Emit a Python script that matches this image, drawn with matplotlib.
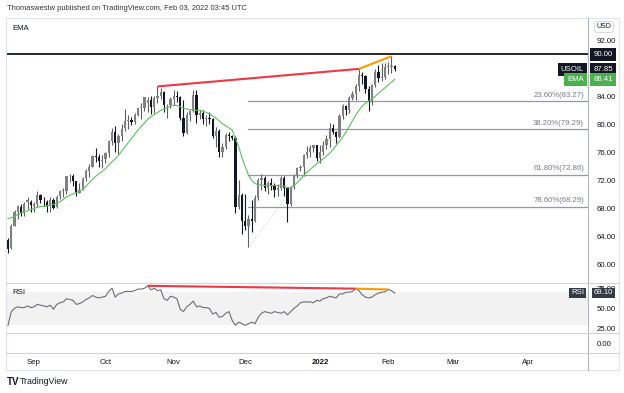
import matplotlib
matplotlib.use('Agg')
import matplotlib.pyplot as plt
import matplotlib.transforms as mtrans
from matplotlib.lines import Line2D
import numpy as np
import pandas as pd

plt.rcParams['font.family'] = ['Liberation Sans', 'DejaVu Sans']

# ---------------- data ----------------
start_date = '2021-08-20'
end_date = '2022-02-03'

opens = [63.5, 62.4, 65.6, 67.5, 68.3, 67.4, 68.9, 69.0, 68.4, 68.7,
         69.9, 69.0, 69.0, 68.4, 69.3, 68.2, 69.8, 70.5, 70.5, 72.6,
         72.6, 71.9, 70.3, 70.6, 72.3, 73.3, 74.0, 75.5, 75.3, 74.8,
         75.1, 75.9, 77.6, 78.9, 77.4, 78.3, 79.5, 80.5, 80.6, 80.4,
         81.3, 82.4, 82.4, 83.0, 83.4, 82.5, 83.8, 84.0, 84.6, 82.7,
         82.8, 83.6, 84.0, 83.9, 80.9, 78.8, 81.3, 81.9, 84.2, 81.3,
         81.6, 80.8, 80.9, 80.8, 78.4, 79.0, 76.1, 76.8, 78.5, 78.4,
         78.1, 68.2, 70.0, 66.2, 65.6, 66.5, 66.3, 69.5, 72.1, 72.4,
         70.9, 71.7, 71.3, 70.7, 70.9, 72.4, 70.9, 68.6, 71.1, 72.8,
         73.8, 73.9, 75.6, 76.0, 76.6, 77.0, 75.2, 76.1, 77.0, 77.9,
         79.5, 78.9, 78.2, 81.2, 82.6, 82.1, 83.8, 84.3, 85.4, 87.0,
         86.9, 85.1, 83.3, 85.6, 87.4, 86.6, 86.8, 88.2, 88.2, 88.3]
highs = [63.9, 65.8, 67.8, 68.5, 68.6, 68.9, 69.6, 69.3, 69.0, 70.5,
         70.1, 69.6, 69.3, 69.6, 69.5, 69.9, 70.7, 71.0, 72.7, 73.0,
         72.9, 71.9, 71.6, 72.5, 73.6, 74.3, 75.7, 76.7, 75.8, 75.6,
         76.0, 77.8, 79.5, 79.8, 78.7, 80.0, 82.2, 81.3, 81.0, 81.6,
         82.4, 83.0, 83.9, 83.9, 84.0, 84.0, 85.4, 85.2, 84.7, 82.9,
         83.9, 84.9, 84.8, 84.0, 83.4, 81.8, 82.1, 84.9, 84.9, 82.1,
         82.0, 81.3, 81.8, 80.9, 79.6, 79.3, 77.4, 78.8, 78.9, 78.5,
         78.3, 72.1, 70.2, 70.1, 67.1, 69.3, 70.0, 72.4, 72.9, 72.7,
         72.0, 72.4, 71.7, 71.5, 72.7, 72.6, 70.9, 71.3, 72.9, 73.9,
         74.2, 75.8, 76.9, 77.0, 77.1, 77.0, 77.0, 77.6, 78.5, 80.2,
         80.0, 79.0, 81.5, 82.9, 82.8, 84.0, 84.8, 85.7, 87.9, 87.5,
         87.0, 85.5, 85.8, 87.9, 88.5, 88.8, 88.7, 88.9, 89.7, 88.4]
lows = [61.7, 62.3, 65.5, 66.6, 66.9, 67.0, 68.0, 67.6, 67.6, 68.3,
        68.8, 68.4, 67.6, 67.6, 67.9, 68.1, 69.4, 69.7, 70.1, 71.8,
        71.3, 69.8, 70.2, 70.6, 71.9, 72.5, 73.9, 74.6, 73.9, 73.8,
        74.5, 75.3, 77.0, 76.0, 75.8, 77.6, 79.1, 79.4, 79.9, 80.0,
        81.2, 80.8, 81.9, 81.8, 81.5, 81.6, 83.0, 83.6, 81.8, 80.9,
        82.3, 82.8, 83.2, 80.6, 78.3, 78.6, 80.5, 81.8, 80.2, 80.8,
        80.0, 79.8, 80.0, 78.1, 76.8, 75.4, 75.3, 76.5, 77.6, 77.8,
        67.4, 67.9, 64.4, 64.9, 62.5, 64.7, 66.1, 69.2, 70.7, 70.5,
        70.1, 70.7, 69.6, 69.8, 70.6, 69.8, 66.1, 68.4, 70.8, 72.3,
        73.4, 72.6, 75.2, 75.3, 76.0, 74.8, 74.5, 75.6, 76.5, 76.8,
        78.6, 77.4, 78.1, 80.8, 81.4, 81.6, 83.5, 83.5, 84.7, 85.7,
        84.4, 81.9, 82.7, 85.3, 86.1, 86.2, 86.4, 87.2, 87.3, 87.6]
closes = [62.3, 65.6, 67.5, 68.4, 67.4, 68.7, 69.2, 68.5, 68.6, 70.0,
          69.3, 68.9, 68.4, 69.3, 68.1, 69.7, 70.5, 70.5, 72.6, 72.6,
          72.0, 70.3, 70.6, 72.2, 73.3, 74.0, 75.5, 75.3, 74.8, 75.0,
          75.9, 77.6, 78.9, 77.4, 78.3, 79.4, 80.5, 80.6, 80.4, 81.3,
          82.3, 82.4, 83.9, 83.4, 82.5, 83.8, 84.0, 84.6, 82.7, 82.8,
          83.6, 84.0, 83.9, 80.9, 78.8, 81.3, 81.9, 84.2, 81.3, 81.6,
          80.8, 80.9, 80.8, 78.4, 79.0, 76.1, 76.8, 78.5, 78.4, 78.1,
          68.2, 70.0, 66.2, 65.6, 66.5, 66.3, 69.5, 72.1, 72.4, 70.9,
          71.7, 71.3, 70.7, 70.9, 72.4, 70.9, 68.6, 71.1, 72.8, 73.8,
          73.9, 75.6, 76.0, 76.6, 77.0, 75.2, 76.1, 77.0, 77.9, 79.5,
          78.9, 78.2, 81.2, 82.6, 82.1, 83.8, 84.3, 85.4, 87.0, 86.9,
          85.1, 83.3, 85.6, 87.4, 86.6, 86.8, 88.2, 88.2, 88.3, 87.85]
ema = [66.6, 66.7, 66.9, 67.2, 67.4, 67.6, 67.7, 67.9, 68.0, 68.2,
       68.3, 68.3, 68.4, 68.5, 68.6, 68.8, 69.0, 69.3, 69.7, 69.9,
       70.1, 70.3, 70.5, 70.8, 71.2, 71.7, 72.2, 72.6, 73.0, 73.3,
       73.7, 74.2, 74.7, 75.1, 75.6, 76.2, 76.8, 77.4, 78.0, 78.6,
       79.2, 79.7, 80.2, 80.7, 81.1, 81.4, 81.7, 82.0, 82.2, 82.4,
       82.6, 82.7, 82.7, 82.5, 82.3, 82.2, 82.1, 82.1, 82.0, 82.0,
       81.9, 81.7, 81.5, 81.2, 80.9, 80.5, 80.1, 79.8, 79.5, 79.2,
       78.0, 76.8, 75.3, 74.0, 72.8, 72.0, 71.6, 71.4, 71.4, 71.3,
       71.3, 71.3, 71.3, 71.3, 71.3, 71.2, 71.0, 71.0, 71.3, 71.7,
       72.2, 72.7, 73.2, 73.6, 74.0, 74.4, 74.7, 75.1, 75.5, 75.9,
       76.4, 77.0, 77.6, 78.2, 78.9, 79.7, 80.5, 81.3, 82.0, 82.6,
       83.0, 83.3, 83.6, 84.0, 84.4, 84.8, 85.2, 85.6, 86.0, 86.41]
rsi = [29, 46, 50, 52, 51, 51, 53, 51, 52, 55,
       54, 53, 52, 54, 49, 55, 57, 58, 62, 61,
       60, 55, 56, 58, 61, 63, 66, 64, 63, 64,
       65, 71, 75, 64, 68, 69, 71, 71, 71, 72,
       74, 74, 75, 78, 73, 75, 72, 73, 62, 60,
       65, 64, 62, 49, 46, 52, 55, 59, 52, 53,
       51, 51, 50, 43, 45, 39, 40, 44, 46, 35,
       29, 33, 31, 29, 31, 33, 31, 39, 44, 46,
       45, 44, 46, 45, 44, 46, 42, 46, 50, 53,
       57, 58, 58, 58, 57, 60, 59, 62, 63, 65,
       64, 63, 68, 68, 70, 70, 71, 74.5, 72, 67,
       64, 63, 64, 67, 69, 70, 70.5, 73.5, 72, 69.1]

price_ticks = [60, 64, 68, 72, 76, 80, 84, 92]   # 88.00 is hidden under the last-price tag
rsi_ticks = [25, 50, 75]
month_labels = ['Sep', 'Oct', 'Nov', 'Dec', '2022', 'Feb', 'Mar', 'Apr']
month_starts = ['2021-09-01', '2021-10-01', '2021-11-01', '2021-12-01',
                '2022-01-03', '2022-02-01', '2022-03-01', '2022-04-01']
fib_pcts = ['23.60%', '38.20%', '61.80%', '78.60%']
fib_prices = [83.27, 79.29, 72.86, 68.29]
fib_low_date, fib_low_price = '2021-12-02', 62.46
fib_high_date, fib_high_price = '2022-02-02', 89.70
hline_price = 90.00
div_price_dates = ['2021-10-25', '2022-01-19', '2022-02-02']
div_rsi_dates = ['2021-10-20', '2022-01-18', '2022-02-01']
last_price, last_ema, last_rsi = 87.85, 86.41, 69.10
header = 'Thomaswestw published on TradingView.com, Feb 03, 2022 03:45 UTC'

# ---------------- setup ----------------
days = pd.bdate_range(start_date, '2022-04-30')
bars = pd.bdate_range(start_date, end_date)
o, h, l, c = (np.array(v, dtype=float) for v in (opens, highs, lows, closes))
assert len(bars) == len(o) == len(h) == len(l) == len(c) == len(ema) == len(rsi)
xi = np.arange(len(bars))
def idx(d):
    return int(days.get_indexer([pd.Timestamp(d)])[0])

W, H = 624, 393
fig = plt.figure(figsize=(W / 100, H / 100), dpi=100)
fig.patch.set_facecolor('white')

TXT = '#131722'
GRID = '#e0e3eb'
PL, PR, XR = 7, 588, 619
XLIM = (-0.31, 178.5)
FS = 5.6

def add_ax(x0, y0, x1, y1):
    a = fig.add_axes([x0 / W, 1 - y1 / H, (x1 - x0) / W, (y1 - y0) / H])
    a.set_facecolor('none')
    for s in a.spines.values():
        s.set_visible(False)
    a.set_xlim(XLIM)
    a.set_xticks([])
    return a

def fig_line(xs, ys, color=GRID, lw=0.8):
    fig.add_artist(Line2D([x / W for x in xs], [1 - y / H for y in ys], color=color, lw=lw))

# frame
fig_line([6, XR], [17.5, 17.5])
fig_line([6, XR], [370, 370])
fig_line([6, 6], [17.5, 370])
fig_line([XR, XR], [17.5, 370])
fig_line([PR, PR], [17.5, 370], color='#b2b5be')
for yy in (282.5, 333, 353):
    fig_line([6, XR], [yy, yy], color='#d1d4dc')

def tag(a, y, text, fc, side='right', tc='white', pad=0.4):
    tr = mtrans.blended_transform_factory(a.transAxes, a.transData)
    if side == 'right':
        xx, ha = 1 + 5.5 / (PR - PL), 'left'
    else:
        xx, ha = 1 - 4 / (PR - PL), 'right'
    a.text(xx, y, text, transform=tr, ha=ha, va='center', fontsize=FS, color=tc,
           bbox=dict(boxstyle=f'square,pad={pad}', fc=fc, ec='none'), clip_on=False, zorder=20)

# ---------------- price pane ----------------
ax = add_ax(PL, 18, PR, 282.5)
ax.set_ylim(57.5, 95.14)
up = c >= o
body_col = np.where(up, '#808080', '#131722')
wick_col = np.where(up, '#5f5f5f', '#131722')
ax.vlines(xi, l, h, colors=wick_col, lw=0.8, zorder=3)
ax.bar(xi, np.maximum(np.abs(c - o), 0.1), bottom=np.minimum(o, c), width=0.7,
       color=body_col, lw=0, zorder=4)
ax.plot(xi, ema, color='#5fbf5f', lw=0.8, zorder=5)

ax.axhline(hline_price, color=TXT, lw=1.3, zorder=6)

fs_i = idx(fib_low_date)
ax.plot([fs_i, idx(fib_high_date)], [fib_low_price, fib_high_price], color='#c8c8c8',
        lw=0.5, ls=(0, (2, 2)), zorder=2)
tr_fib = mtrans.blended_transform_factory(ax.transAxes, ax.transData)
for pct, p in zip(fib_pcts, fib_prices):
    ax.plot([fs_i, XLIM[1]], [p, p], color='#9598a1', lw=0.9, zorder=2)
    ax.text((584 - PL) / (PR - PL), p + 0.35, f'{pct}({p:.2f})', transform=tr_fib,
            ha='right', va='bottom', fontsize=FS, color='#787b86')

d0, d1, d2 = (idx(d) for d in div_price_dates)
ax.plot([d0, d1], [h[d0], h[d1]], color='#f23645', lw=1.5, zorder=7, solid_capstyle='butt')
ax.plot([d1, d2], [h[d1], h[d2]], color='#ff9800', lw=1.5, zorder=7, solid_capstyle='butt')

ax.yaxis.tick_right()
ax.set_yticks(price_ticks)
ax.set_yticklabels([f'{v:.2f}' for v in price_ticks])
ax.tick_params(axis='y', length=0, pad=6, labelsize=FS, labelcolor=TXT)

tag(ax, hline_price, f'{hline_price:.2f}', TXT)
tag(ax, last_price, f'{last_price:.2f}', TXT)
tag(ax, last_price, 'USOIL', TXT, side='left')
tag(ax, last_ema, f'{last_ema:.2f}', '#4caf50')
tag(ax, last_ema, 'EMA', '#4caf50', side='left')

# ---------------- RSI pane ----------------
axr = add_ax(PL, 283, PR, 333)
axr.set_ylim(19.5, 81.5)
axr.axhspan(30, 70, color='#f2f2f2', lw=0, zorder=0)
axr.plot(xi, rsi, color='#6b6e77', lw=0.8, zorder=3)
r0, r1, r2 = (idx(d) for d in div_rsi_dates)
axr.plot([r0, r1], [rsi[r0], rsi[r1]], color='#f23645', lw=1.5, zorder=4, solid_capstyle='butt')
axr.plot([r1, r2], [rsi[r1], rsi[r2]], color='#ff9800', lw=1.5, zorder=4, solid_capstyle='butt')
axr.yaxis.tick_right()
axr.set_yticks(rsi_ticks)
axr.set_yticklabels([f'{v:.2f}' for v in rsi_ticks])
axr.tick_params(axis='y', length=0, pad=6, labelsize=FS, labelcolor=TXT)
# the scale labels are clipped to the RSI pane's price-scale column, as in the reference
rsi_scale_clip = mtrans.TransformedBbox(
    mtrans.Bbox.from_extents(PR / W, 1 - 333 / H, XR / W, 1 - 283 / H), fig.transFigure)
for lab in axr.get_yticklabels():
    lab.set_clip_box(rsi_scale_clip)
    lab.set_clip_on(True)
tag(axr, last_rsi, f'{last_rsi:.2f}', '#363a45', pad=0.25)
tag(axr, last_rsi, 'RSI', '#363a45', side='left', pad=0.25)

# ---------------- empty pane ----------------
axe = add_ax(PL, 333, PR, 353)
axe.set_ylim(-1, 1)
axe.yaxis.tick_right()
axe.set_yticks([0])
axe.set_yticklabels(['0.00'])
axe.tick_params(axis='y', length=0, pad=6, labelsize=FS, labelcolor=TXT)

# ---------------- time axis ----------------
axt = add_ax(PL, 353, PR, 370)
axt.set_yticks([])
tr_t = mtrans.blended_transform_factory(axt.transData, axt.transAxes)
for d, lab in zip(month_starts, month_labels):
    axt.text(idx(d), 0.45, lab, transform=tr_t, ha='center', va='center', fontsize=FS,
             color=TXT, fontweight='bold' if lab.isdigit() else 'normal')

# ---------------- texts ----------------
fig.text(7 / W, 1 - 8.5 / H, header, fontsize=5.4, color='#333333', va='center')
fig.text(12 / W, 1 - 28 / H, 'EMA', fontsize=FS, color=TXT, va='center')
fig.text(12 / W, 1 - 293 / H, 'RSI', fontsize=FS, color=TXT, va='center')
fig.text(604 / W, 1 - 27 / H, 'USD', fontsize=5.0, color=TXT, va='center', ha='center',
         bbox=dict(boxstyle='round,pad=0.3,rounding_size=0.4', fc='white', ec='#d1d4dc', lw=0.6))
fig.text(7 / W, 1 - 382 / H, 'TV', fontsize=7, fontweight='bold', color=TXT, va='center')
fig.text(20 / W, 1 - 382 / H, 'TradingView', fontsize=6.3, color=TXT, va='center')

fig.savefig('out.png', dpi=100, facecolor='white')
